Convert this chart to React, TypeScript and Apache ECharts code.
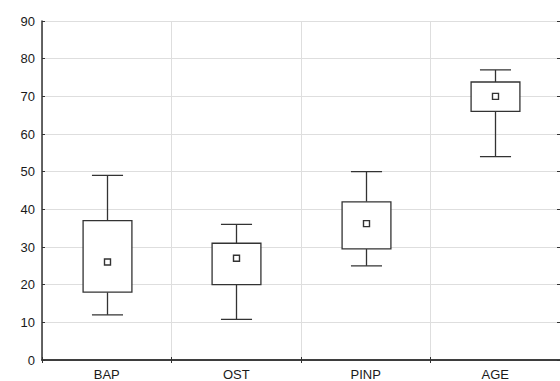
import React, { useEffect, useRef } from "react";
import * as echarts from "echarts";

const categories = ["BAP", "OST", "PINP", "AGE"];
const whiskerLow = [12, 10.8, 25, 54];
const boxLow = [18, 20, 29.5, 66];
const means = [26, 27, 36.2, 70];
const boxHigh = [37, 31, 42, 73.8];
const whiskerHigh = [49, 36, 50, 77];
const yTicks = [0, 10, 20, 30, 40, 50, 60, 70, 80, 90];

export default function App() {
  const ref = useRef<HTMLDivElement>(null);
  useEffect(() => {
    if (!ref.current) return;
    const chart = echarts.init(ref.current, null, { renderer: "svg" });
    const data = categories.map((_, i) => [i, whiskerLow[i], boxLow[i], means[i], boxHigh[i], whiskerHigh[i]]);
    const ink = "#333";
    const gridColor = "#dedede";
    const labelStyle = { color: "#1a1a1a", fontSize: 13, fontFamily: "Liberation Sans, Arial, sans-serif" };
    chart.setOption({
      animation: false,
      backgroundColor: "#fff",
      grid: { left: 42, top: 21, right: -2, bottom: 21, containLabel: false },
      xAxis: [
        {
          type: "category",
          data: categories,
          position: "bottom",
          boundaryGap: true,
          axisLine: { show: true, lineStyle: { color: ink, width: 1.5 } },
          axisTick: { show: true, inside: true, length: 3, lineStyle: { color: ink } },
          axisLabel: { ...labelStyle, margin: 8 },
          splitLine: { show: true, lineStyle: { color: gridColor, width: 1 } },
        },
        {
          type: "category",
          data: categories,
          position: "top",
          boundaryGap: true,
          axisLine: { show: true, lineStyle: { color: ink, width: 1.5 } },
          axisTick: { show: true, inside: true, length: 3, lineStyle: { color: ink } },
          axisLabel: { show: false },
          splitLine: { show: false },
        },
      ],
      yAxis: [
        {
          type: "value",
          min: yTicks[0],
          max: yTicks[yTicks.length - 1],
          interval: 10,
          position: "left",
          axisLine: { show: true, lineStyle: { color: ink, width: 1.5 } },
          axisTick: { show: true, inside: true, length: 3, lineStyle: { color: ink } },
          axisLabel: { ...labelStyle, margin: 7 },
          splitLine: { show: true, lineStyle: { color: gridColor, width: 1 } },
        },
        {
          type: "value",
          min: yTicks[0],
          max: yTicks[yTicks.length - 1],
          interval: 10,
          position: "right",
          axisLine: { show: false },
          axisTick: { show: true, inside: true, length: 3, lineStyle: { color: ink } },
          axisLabel: { show: false },
          splitLine: { show: false },
        },
      ],
      series: [
        {
          type: "custom",
          xAxisIndex: 0,
          yAxisIndex: 0,
          data,
          encode: { x: 0, y: [1, 2, 3, 4, 5] },
          renderItem: (params: any, api: any) => {
            const idx = api.value(0);
            const band = api.size([1, 0])[0];
            const boxW = band * 0.377;
            const capW = band * 0.24;
            const pWL = api.coord([idx, api.value(1)]);
            const pQ1 = api.coord([idx, api.value(2)]);
            const pM = api.coord([idx, api.value(3)]);
            const pQ3 = api.coord([idx, api.value(4)]);
            const pWH = api.coord([idx, api.value(5)]);
            const cx = Math.round(pM[0]) + 0.5;
            const ls = { stroke: ink, lineWidth: 1.3, fill: null };
            return {
              type: "group",
              children: [
                { type: "line", shape: { x1: cx, y1: pWH[1], x2: cx, y2: pQ3[1] }, style: ls },
                { type: "line", shape: { x1: cx, y1: pQ1[1], x2: cx, y2: pWL[1] }, style: ls },
                { type: "line", shape: { x1: cx - capW / 2, y1: pWH[1], x2: cx + capW / 2, y2: pWH[1] }, style: ls },
                { type: "line", shape: { x1: cx - capW / 2, y1: pWL[1], x2: cx + capW / 2, y2: pWL[1] }, style: ls },
                {
                  type: "rect",
                  shape: { x: cx - boxW / 2, y: pQ3[1], width: boxW, height: pQ1[1] - pQ3[1] },
                  style: { stroke: ink, lineWidth: 1.3, fill: "#fff" },
                },
                {
                  type: "rect",
                  shape: { x: cx - 3, y: pM[1] - 3, width: 6, height: 6 },
                  style: { stroke: ink, lineWidth: 1.4, fill: "#fff" },
                },
              ],
            };
          },
        },
      ],
    });
    return () => chart.dispose();
  }, []);
  return <div ref={ref} style={{ position: "fixed", left: 0, top: 0, width: 560, height: 381 }} />;
}
